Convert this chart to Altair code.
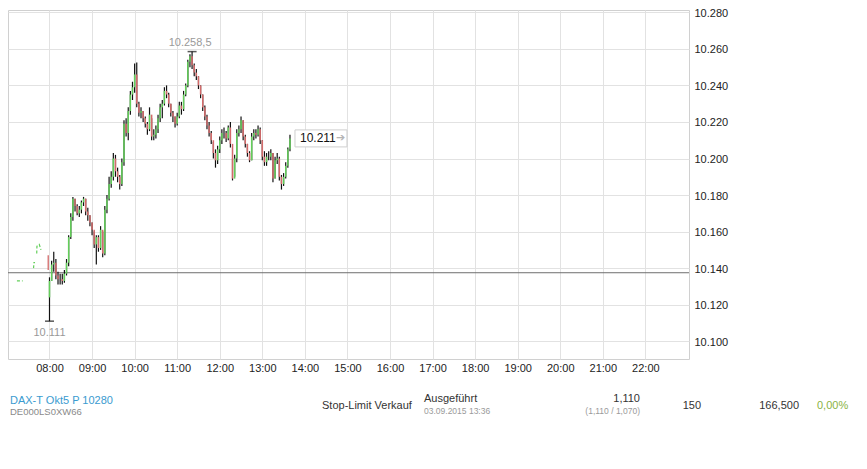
import altair as alt
import pandas as pd

# ---------------- data (DAX intraday, 3-minute candles from 08:00) ----------------
start_hour = 8
interval_min = 3
first_open = 10124

closes = [10133, 10142, 10143, 10136, 10134, 10134, 10133, 10137, 10143, 10157,
          10168, 10178, 10174, 10170, 10172, 10176, 10178, 10171, 10169, 10165,
          10161, 10153, 10157, 10151, 10161, 10148, 10172, 10178, 10186, 10190,
          10200, 10193, 10190, 10186, 10198, 10219, 10214, 10226, 10235, 10239,
          10246, 10230, 10225, 10226, 10222, 10219, 10216, 10224, 10212, 10213,
          10216, 10222, 10228, 10230, 10237, 10235, 10230, 10225, 10223, 10219,
          10223, 10229, 10227, 10235, 10240, 10253, 10256, 10251, 10247, 10245,
          10240, 10235, 10228, 10223, 10218, 10214, 10210, 10203, 10199, 10205,
          10210, 10214, 10214, 10211, 10217, 10208, 10189, 10200, 10214, 10216,
          10221, 10212, 10208, 10203, 10199, 10212, 10214, 10213, 10216, 10210,
          10201, 10198, 10201, 10201, 10203, 10189, 10199, 10200, 10190, 10186,
          10190, 10196, 10205, 10211]
highs = [10135, 10144, 10149, 10145, 10138, 10137, 10137, 10139, 10145, 10158,
         10170, 10179, 10178, 10175, 10174, 10177, 10179, 10178, 10173, 10169,
         10165, 10160, 10158, 10158, 10163, 10160, 10174, 10180, 10190, 10193,
         10203, 10202, 10195, 10191, 10200, 10221, 10222, 10228, 10237, 10242,
         10252, 10252.5, 10231, 10228, 10226, 10223, 10220, 10228, 10222, 10216,
         10218, 10224, 10230, 10232, 10239, 10240, 10236, 10230, 10226, 10223,
         10225, 10231, 10231, 10237, 10241, 10254, 10257, 10258.5, 10252, 10249,
         10245, 10240, 10235, 10229, 10224, 10220, 10215, 10209, 10205, 10207,
         10212, 10216, 10217, 10215, 10218, 10220, 10200, 10202, 10216, 10218,
         10223, 10221, 10213, 10208, 10204, 10214, 10216, 10216, 10218, 10217,
         10210, 10204, 10203, 10204, 10205, 10203, 10201, 10203, 10201, 10191,
         10192, 10198, 10206, 10213]
lows = [10111, 10133, 10138, 10134, 10131, 10131, 10131, 10132, 10136, 10141,
        10156, 10166, 10171, 10169, 10168, 10170, 10174, 10169, 10166, 10163,
        10158, 10151, 10142, 10149, 10150, 10146, 10147, 10170, 10177, 10184,
        10188, 10190, 10187, 10183, 10185, 10196, 10212, 10210, 10224, 10232,
        10236, 10228, 10223, 10222, 10220, 10217, 10213, 10215, 10210, 10210,
        10211, 10214, 10220, 10222, 10229, 10233, 10228, 10223, 10220, 10217,
        10218, 10222, 10224, 10226, 10234, 10239, 10250, 10249, 10245, 10243,
        10238, 10233, 10226, 10221, 10216, 10212, 10208, 10200, 10195, 10197,
        10203, 10208, 10211, 10209, 10210, 10206, 10188, 10190, 10198, 10212,
        10214, 10210, 10206, 10201, 10198, 10199, 10210, 10211, 10212, 10208,
        10199, 10196, 10196, 10199, 10199, 10187, 10189, 10197, 10188, 10183,
        10185, 10189, 10195, 10204]

# pre-market ticks
pre_seg = [0, 0, 1, 1, 1, 2, 2, 2, 2]
pre_hours = [7.235, 7.37, 7.625, 7.635, 7.66, 7.70, 7.705, 7.76, 7.80]
pre_prices = [10133, 10133, 10140, 10143, 10143, 10148, 10152, 10153, 10150]
pre_bar_hour = [7.97]
pre_bar_open = [10147]
pre_bar_close = [10139]

prev_close = [10137.5]

marker_hours = [8.0, 8 + 201 / 60]
marker_prices = [10111, 10258.5]
marker_labels = ["10.111", "10.258,5"]

hour_ticks = list(range(8, 23))
price_ticks = list(range(10100, 10281, 20))

# bottom order row
row_texts = ["DAX-T Okt5 P 10280", "DE000LS0XW66", "Stop-Limit Verkauf", "Ausgeführt",
             "03.09.2015 13:36", "1,110", "(1,110 / 1,070)", "150", "166,500", "0,00%"]

# ---------------- frames ----------------
n = len(closes)
opens = [first_open] + closes[:-1]
times = [start_hour + interval_min * k / 60 for k in range(n)]
candles = pd.DataFrame({"t": times, "o": opens, "h": highs, "l": lows, "c": closes})
candles["dir"] = ["up" if c >= o else "down" for o, c in zip(opens, closes)]

pre = pd.DataFrame({"t": pre_hours, "v": pre_prices, "seg": pre_seg})
prebar = pd.DataFrame({"t": pre_bar_hour, "o": pre_bar_open, "c": pre_bar_close,
                       "dir": ["down"]})
ref = pd.DataFrame({"v": prev_close})
marks = pd.DataFrame({"t": marker_hours, "v": marker_prices, "lab": marker_labels})
last = pd.DataFrame({"t": [times[-1]], "v": [closes[-1]],
                     "lab": ["10.211"]})

GREEN = "#63cf5a"
RED = "#d46a6a"

xscale = alt.Scale(domain=[7.025, 23.025], nice=False, zero=False)
yscale = alt.Scale(domain=[10090.3, 10281.26], nice=False, zero=False)
xaxis = alt.Axis(values=hour_ticks, title=None, ticks=False, domain=False,
                 labelExpr="(datum.value < 10 ? '0' : '') + datum.value + ':00'",
                 labelPadding=3, grid=True)
yaxis = alt.Axis(orient="right", values=price_ticks, title=None, ticks=False, domain=False,
                 labelExpr="replace(format(datum.value, ',.0f'), ',', '.')",
                 labelPadding=5, labelOffset=1, grid=True)


def X(f="t"):
    return alt.X(f"{f}:Q", scale=xscale, axis=xaxis)


def Y(f):
    return alt.Y(f"{f}:Q", scale=yscale, axis=yaxis)


colorenc = alt.Color("dir:N", scale=alt.Scale(domain=["up", "down"], range=[GREEN, RED]),
                     legend=None)

wicks = alt.Chart(candles).mark_rule(color="#111", strokeWidth=1.2).encode(
    x=X(), y=Y("l"), y2="h")
bodies = alt.Chart(candles).mark_rule(strokeWidth=1.5).encode(
    x=X(), y=Y("o"), y2="c", color=colorenc)

refline = alt.Chart(ref).mark_rule(color="#6e6e6e", strokeWidth=1).encode(y=Y("v"))

preline = alt.Chart(pre).mark_line(color=GREEN, strokeWidth=1.2, strokeDash=[3, 2]).encode(
    x=X(), y=Y("v"), detail="seg:N")
prebars = alt.Chart(prebar).mark_rule(strokeWidth=1.3).encode(
    x=X(), y=Y("o"), y2="c", color=colorenc)

caps = alt.Chart(marks).mark_tick(orient="horizontal", size=9, thickness=1.5,
                                  color="#111").encode(x=X(), y=Y("v"))
low_lab = alt.Chart(marks.iloc[[0]]).mark_text(dy=12, fontSize=11, color="#999",
                                               font="Liberation Sans").encode(
    x=X(), y=Y("v"), text="lab:N")
high_lab = alt.Chart(marks.iloc[[1]]).mark_text(dy=-9, dx=-2, fontSize=11, color="#999",
                                                font="Liberation Sans").encode(
    x=X(), y=Y("v"), text="lab:N")

box = alt.Chart(last).mark_rect(width=52, height=17, xOffset=31, fill="white",
                                stroke="#cfcfcf", strokeWidth=1).encode(x=X(), y=Y("v"))
last_txt = alt.Chart(last).mark_text(align="left", dx=10, fontSize=12, color="#111",
                                     font="Liberation Sans").encode(
    x=X(), y=Y("v"), text="lab:N")
arrow = alt.Chart(last).mark_text(align="left", dx=46, fontSize=11, color="#b4b4b4",
                                  font="DejaVu Sans", text="➔").encode(x=X(), y=Y("v"))

# bottom row texts (positions relative to the plot area)
row_layers = []
row_specs = [
    (0, 2, 391, "left", 11, "#3a9bd0"),
    (1, 2, 402, "left", 9.5, "#8a8a8a"),
    (2, 314, 396, "left", 11, "#333333"),
    (3, 416, 389, "left", 11, "#333333"),
    (4, 416, 401, "left", 8.5, "#9a9a9a"),
    (5, 632, 389, "right", 11, "#333333"),
    (6, 632, 401, "right", 8.5, "#9a9a9a"),
    (7, 693, 396, "right", 11, "#333333"),
    (8, 791, 396, "right", 11, "#333333"),
    (9, 809, 396, "left", 11, "#8ab33f"),
]
for idx, px, py, al, fs, col in row_specs:
    row_layers.append(
        alt.Chart(ref).mark_text(align=al, baseline="middle", fontSize=fs, color=col,
                                 font="Liberation Sans", text=row_texts[idx]).encode(
            x=alt.value(px), y=alt.value(py)))

chart = alt.layer(
    refline, preline, prebars, wicks, bodies, caps, low_lab, high_lab,
    box, last_txt, arrow, *row_layers
).properties(
    width=681, height=349,
    autosize=alt.AutoSizeParams(type="none"),
    padding={"left": 0, "top": 2, "right": 166, "bottom": 78},
    background="white",
).configure_view(
    stroke="#d0d0d0", strokeWidth=1
).configure_axis(
    gridColor="#e2e2e2", gridWidth=1,
    labelFont="Liberation Sans", labelFontSize=11, labelColor="#222",
)

chart.save("out.html", embed_options={"renderer": "svg", "actions": False})
